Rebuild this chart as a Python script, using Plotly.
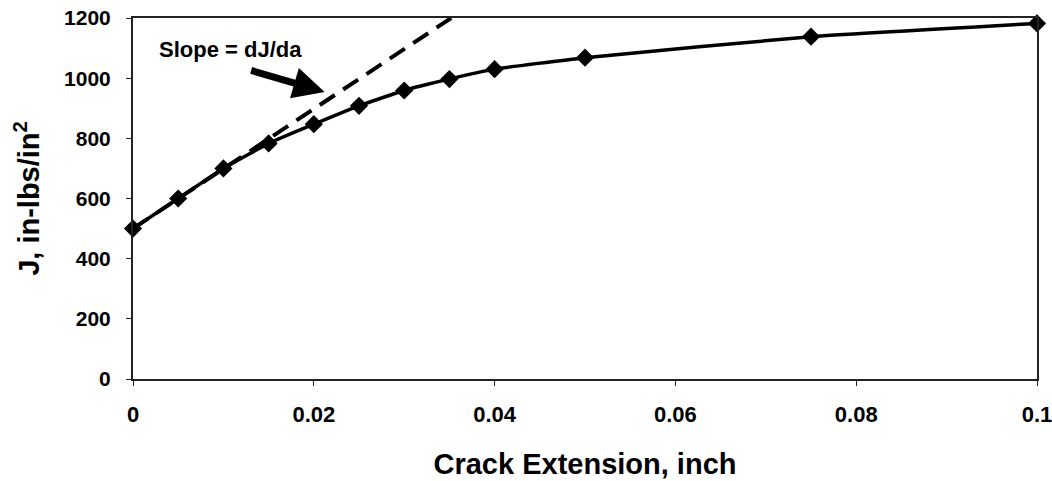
import plotly.graph_objects as go

# J-R resistance curve data
crack_ext = [0, 0.005, 0.01, 0.015, 0.02, 0.025, 0.03, 0.035, 0.04, 0.05, 0.075, 0.1]
j_values = [500, 600, 700, 783, 847, 908, 959, 997, 1030, 1068, 1138, 1182]

# Initial tangent (slope dJ/da)
tangent_x = [0, 0.0352]
tangent_y = [500, 1200]

x_ticks = [0, 0.02, 0.04, 0.06, 0.08, 0.1]
x_tick_text = ["0", "0.02", "0.04", "0.06", "0.08", "0.1"]
y_ticks = [0, 200, 400, 600, 800, 1000, 1200]

font_family = "Liberation Sans, Arial, sans-serif"

fig = go.Figure()
fig.add_trace(go.Scatter(
    x=tangent_x, y=tangent_y, mode="lines",
    line=dict(color="black", width=4, dash="18px,10px"),
    hoverinfo="skip", showlegend=False, cliponaxis=True,
))
fig.add_trace(go.Scatter(
    x=crack_ext, y=j_values, mode="lines+markers",
    line=dict(color="black", width=3.5, shape="spline", smoothing=0.4),
    marker=dict(symbol="diamond", size=14, color="black"),
    showlegend=False, cliponaxis=False,
))

fig.add_annotation(
    x=0.0212, y=954, xref="x", yref="y",
    ax=-75, ay=-22, axref="pixel", ayref="pixel",
    text="", showarrow=True, arrowhead=2, arrowsize=0.9,
    arrowwidth=7, arrowcolor="black", standoff=0,
)
fig.add_annotation(
    x=0.0108, y=1096, xref="x", yref="y",
    text="<b>Slope = dJ/da</b>", showarrow=False,
    font=dict(family=font_family, size=22, color="black"),
)

fig.update_layout(
    width=1052, height=481,
    margin=dict(l=133, r=15, t=18, b=102, autoexpand=False),
    paper_bgcolor="white", plot_bgcolor="white",
    font=dict(family=font_family, color="black"),
    xaxis=dict(
        range=[0, 0.1], tickvals=x_ticks, ticktext=x_tick_text,
        showgrid=False, zeroline=False, automargin=False,
        showline=True, linecolor="#222", linewidth=2, mirror=True,
        ticks="outside", ticklen=5, tickcolor="#222",
        ticklabelstandoff=10, ticklabeloverflow="allow",
        tickfont=dict(size=22, family=font_family, weight="bold"),
        title=dict(text="<b>Crack Extension, inch</b>",
                   font=dict(size=29, family=font_family), standoff=27),
    ),
    yaxis=dict(
        range=[0, 1200], tickvals=y_ticks,
        showgrid=False, zeroline=False, automargin=False,
        showline=True, linecolor="#222", linewidth=2, mirror=True,
        ticks="outside", ticklen=5, tickcolor="#222",
        ticklabelstandoff=11, ticklabeloverflow="allow",
        tickfont=dict(size=21, family=font_family, weight="bold"),
        title=dict(text="<b>J, in-lbs/in<sup>2</sup></b>",
                   font=dict(size=29, family=font_family), standoff=16),
    ),
)

fig.write_html("out.html")
